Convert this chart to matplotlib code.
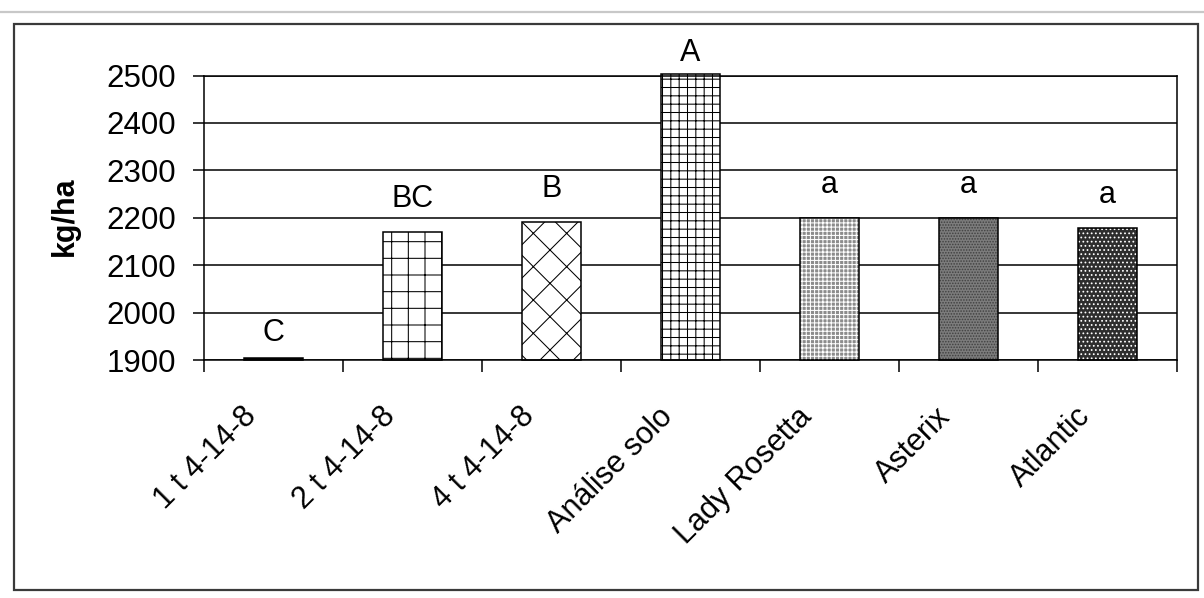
import matplotlib
matplotlib.use("Agg")
import matplotlib.pyplot as plt
import matplotlib.transforms as mtransforms
from matplotlib.patches import Rectangle
from matplotlib.lines import Line2D
import numpy as np

plt.rcParams['font.family'] = ['Liberation Sans', 'DejaVu Sans']
plt.rcParams['hatch.linewidth'] = 0.75

# dados do gráfico (kg/ha)
categorias = ['1 t 4-14-8', '2 t 4-14-8', '4 t 4-14-8', 'Análise solo',
              'Lady Rosetta', 'Asterix', 'Atlantic']
valores = [1904, 2170, 2191, 2504, 2199, 2199, 2178]
letras = ['C', 'BC', 'B', 'A', 'a', 'a', 'a']
yticks = [1900, 2000, 2100, 2200, 2300, 2400, 2500]

# estilo de cada barra: (cor de fundo, hachura, cor da hachura)
estilos = [('black', '', 'black'),
           ('white', '+', 'black'),
           ('white', 'x', 'black'),
           ('white', '++', 'black'),
           ('#8c8c8c', '++++', 'white'),
           ('#7c7c7c', '......', '#404040'),
           ('#2e2e2e', '....', 'white')]
pad_letras = [7, 13, 13, 4, 13, 13, 13]  # pontos acima da barra

W, H = 1204, 598
fig = plt.figure(figsize=(W / 100, H / 100), dpi=100)
ax = fig.add_axes([204 / W, 1 - 360 / H, (1177 - 204) / W, (360 - 75.5) / H])

x = np.arange(len(categorias))
largura = 0.42
base = yticks[0]  # o eixo começa em 1900
alturas = np.array(valores) - base

for i in range(len(categorias)):
    face, hatch, hcor = estilos[i]
    ax.bar(x[i], alturas[i], largura, bottom=base, color=face, edgecolor='none',
           zorder=2, clip_on=False)
    if hatch:
        ax.bar(x[i], alturas[i], largura, bottom=base, facecolor='none',
               edgecolor=hcor, linewidth=0, hatch=hatch, zorder=3, clip_on=False)
    ax.bar(x[i], alturas[i], largura, bottom=base, facecolor='none',
           edgecolor='black', linewidth=1.1, zorder=4, clip_on=False)

# letras de significância
for i, txt in enumerate(letras):
    ax.annotate(txt, (x[i], valores[i]), xytext=(0, pad_letras[i]),
                textcoords='offset points', ha='center', va='bottom',
                fontsize=22, zorder=5, annotation_clip=False)

ax.set_xlim(-0.5, len(categorias) - 0.5)
ax.set_ylim(yticks[0], yticks[-1])
ax.set_yticks(yticks)
ax.set_yticklabels([str(v) for v in yticks], fontsize=22.5)
ax.yaxis.grid(True, color='black', linewidth=1.1)
ax.set_axisbelow(True)
ax.tick_params(axis='y', length=8, width=1.1, pad=12, direction='out')

ax.set_xticks(x)
ax.set_xticklabels([])
ax.tick_params(axis='x', which='major', length=0)
ax.set_xticks(np.arange(-0.5, len(categorias), 1.0), minor=True)
ax.tick_params(axis='x', which='minor', length=8.5, width=1.1, direction='out')

for s in ax.spines.values():
    s.set_color('black')
    s.set_linewidth(1.1)

# rótulos inclinados das categorias
trans = mtransforms.offset_copy(ax.get_xaxis_transform(), fig=fig,
                                x=-22, y=-52, units='dots')
for i, nome in enumerate(categorias):
    ax.text(x[i], 0, nome, transform=trans, rotation=45,
            rotation_mode='anchor', ha='right', va='center', fontsize=22)

fig.text(65 / W, 1 - 216 / H, 'kg/ha', rotation=90, ha='center', va='center',
         fontsize=22, fontweight='bold')

# moldura externa
fig.patches.append(Rectangle((14 / W, 1 - 590 / H), (1198 - 14) / W, (590 - 24) / H,
                             transform=fig.transFigure, fill=False,
                             edgecolor='#3a3a3a', linewidth=1.6))
fig.lines.append(Line2D([0, 1], [1 - 12 / H, 1 - 12 / H], transform=fig.transFigure,
                        color='#c8c8c8', linewidth=1.6))

fig.savefig('out.png', dpi=100)
